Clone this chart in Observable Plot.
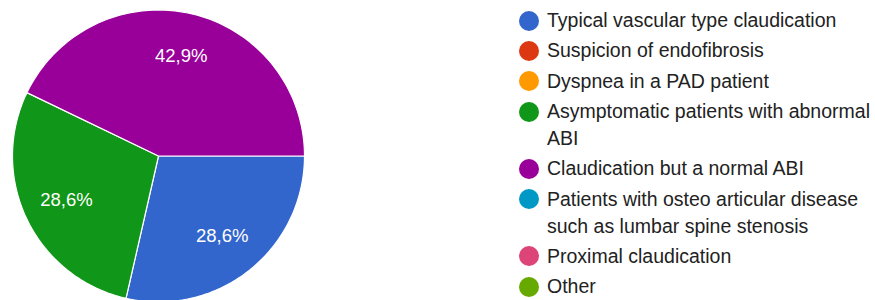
<!DOCTYPE html>
<html>
<head>
<meta charset="utf-8">
<script src="https://cdn.jsdelivr.net/npm/d3@7"></script>
<script src="https://cdn.jsdelivr.net/npm/@observablehq/plot@0.6"></script>
<style>
  html, body { margin: 0; padding: 0; background: #fff; }
  body { width: 875px; height: 300px; overflow: hidden; position: relative; font-family: "Liberation Sans", Arial, sans-serif; }
  #chart { position: absolute; left: 0; top: 0; }
  #legend { position: absolute; left: 519px; top: 7.2px; width: 356px; }
  .item { display: flex; align-items: flex-start; margin-bottom: 3.3px; }
  .dot { width: 20px; height: 20px; border-radius: 50%; flex: none; margin-top: 3.5px; margin-right: 8px; }
  .lab { font-size: 19.5px; line-height: 27px; color: #222; width: 328px; }
</style>
</head>
<body>
<div id="chart"></div>
<div id="legend"></div>
<script>
const categories = [
  "Typical vascular type claudication",
  "Suspicion of endofibrosis",
  "Dyspnea in a PAD patient",
  "Asymptomatic patients with abnormal ABI",
  "Claudication but a normal ABI",
  "Patients with osteo articular disease such as lumbar spine stenosis",
  "Proximal claudication",
  "Other"
];
const counts = [2, 0, 0, 2, 3, 0, 0, 0];
const colors = ["#3366cc", "#dc3912", "#ff9900", "#109618", "#990099", "#0099c6", "#dd4477", "#66aa00"];
const percentLabels = ["28,6%", "", "", "28,6%", "42,9%", "", "", ""];

const startAngle = Math.PI / 2; // slices start at 3 o'clock, clockwise
const total = d3.sum(counts);

// Build slice polygons (unit circle) from the data
const slicePoints = [];
const labelPoints = [];
let acc = 0;
counts.forEach((c, i) => {
  if (c === 0) { return; }
  const a0 = startAngle + (acc / total) * 2 * Math.PI;
  const a1 = startAngle + ((acc + c) / total) * 2 * Math.PI;
  acc += c;
  slicePoints.push({cat: categories[i], color: colors[i], x: 0, y: 0});
  const n = 120;
  for (let k = 0; k <= n; k++) {
    const a = a0 + (a1 - a0) * k / n;
    slicePoints.push({cat: categories[i], color: colors[i], x: Math.sin(a), y: Math.cos(a)});
  }
  const am = (a0 + a1) / 2;
  const r = 0.7;
  labelPoints.push({label: percentLabels[i], x: r * Math.sin(am), y: r * Math.cos(am)});
});

const plot = Plot.plot({
  width: 320,
  height: 300,
  x: {domain: [-1, 1], range: [12, 304], axis: null},
  y: {domain: [-1, 1], range: [301.5, 9.5], axis: null},
  color: {type: "identity"},
  marks: [
    Plot.line(slicePoints, {x: "x", y: "y", z: "cat", fill: "color", stroke: "#fff", strokeWidth: 1.2, curve: "linear-closed"}),
    Plot.text(labelPoints, {x: "x", y: "y", text: "label", fill: "#fff", fontSize: 18.5, fontFamily: "'Liberation Sans', Arial, sans-serif"})
  ]
});
document.getElementById("chart").appendChild(plot);

const legend = document.getElementById("legend");
categories.forEach((c, i) => {
  const item = document.createElement("div");
  item.className = "item";
  const dot = document.createElement("div");
  dot.className = "dot";
  dot.style.background = colors[i];
  const lab = document.createElement("div");
  lab.className = "lab";
  lab.textContent = c;
  item.appendChild(dot);
  item.appendChild(lab);
  legend.appendChild(item);
});
</script>
</body>
</html>
